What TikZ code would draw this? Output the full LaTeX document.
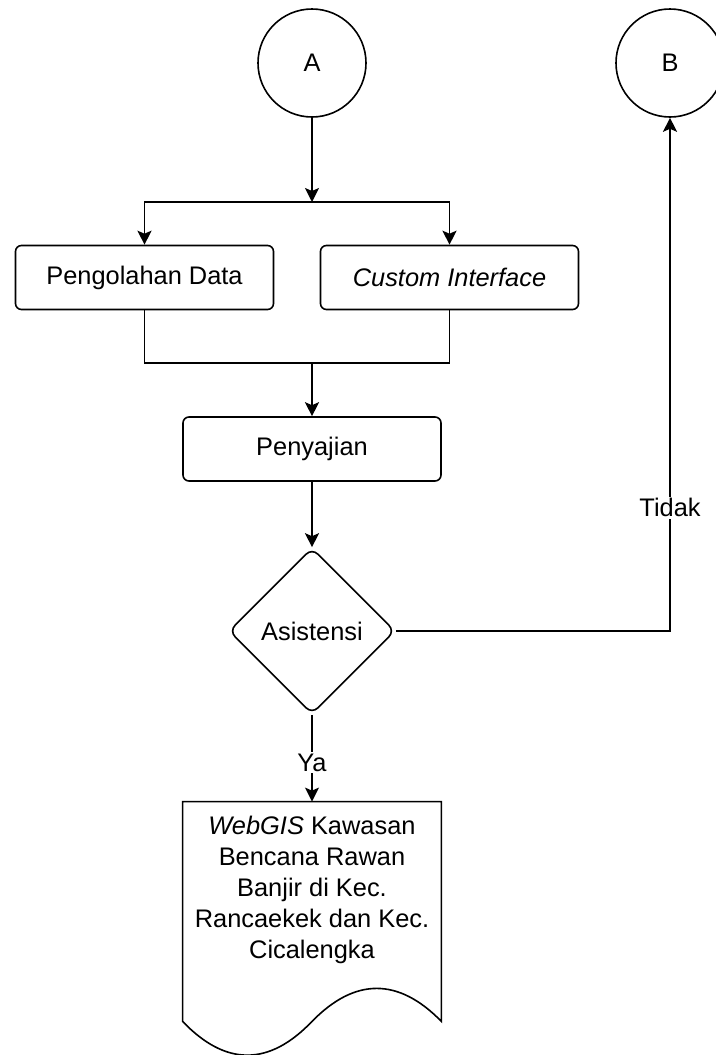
\documentclass[tikz,border=0pt]{standalone}
\usepackage{fontspec}
\setmainfont{Liberation Sans}
\usepackage{xcolor}
\usetikzlibrary{positioning,arrows.meta,calc,shapes.geometric}
\tikzset{
  box/.style={draw=black, line width=0.8pt, rounded corners=3pt, fill=white, align=center, minimum width=129pt, minimum height=32pt, inner sep=2pt},
  conn/.style={draw=black, line width=0.8pt, circle, minimum size=54pt, inner sep=0pt},
  decision/.style={draw=black, line width=0.8pt, diamond, aspect=1, rounded corners=4pt, minimum width=83pt, minimum height=83pt, inner sep=0pt},
  edge/.style={-{Stealth[length=7pt,width=7pt,inset=1.5pt]}, black, line width=0.8pt},
  wire/.style={black, line width=0.8pt},
  lbl/.style={fill=white, inner sep=1pt},
}
\begin{document}
\begin{tikzpicture}[x=0.5pt, y=-0.5pt, every node/.style={font=\fontsize{12.7}{15.5}\selectfont}]
  \useasboundingbox (0,0) rectangle (716,1055);
  \node[conn] (A) at (312,63) {A};
  \node[conn] (B) at (670,63) {B};
  \node[box] (olah) at (144.5,277.5) {Pengolahan Data};
  \node[box] (ui) at (449.5,277.5) {\textit{Custom Interface}};
  \node[box] (saji) at (312,449) {Penyajian};
  \node[decision] (asis) at (312,631) {Asistensi};
  \node[minimum width=129pt, minimum height=109.5pt, inner sep=0pt] (doc) at (312,911.5) {};
  \node[align=center, inner sep=0pt] (web) at (312,890) {\textit{WebGIS} Kawasan\\Bencana Rawan\\Banjir di Kec.\\Rancaekek dan Kec.\\Cicalengka};
  \coordinate (split) at (312,202);
  \coordinate (join) at (312,363);
  % document shape
  \draw[wire] (doc.north west) -- (doc.north east) -- (doc.south east)
    .. controls +(-43,-44) and +(43,-44) .. (doc.south)
    .. controls +(-43,45) and +(43,45) .. (doc.south west) -- cycle;
  \draw[edge] (A) -- (split);
  \draw[edge] (split) -| (olah);
  \draw[edge] (split) -| (ui);
  \draw[wire] (olah) |- (join);
  \draw[wire] (ui) |- (join);
  \draw[edge] (join) -- (saji);
  \draw[edge] (saji) -- (asis);
  \draw[edge] (asis) -| node[lbl, pos=0.62] {Tidak} (B);
  \draw[edge] (asis) -- node[lbl, pos=0.55] {Ya} (doc);
\end{tikzpicture}
\end{document}
